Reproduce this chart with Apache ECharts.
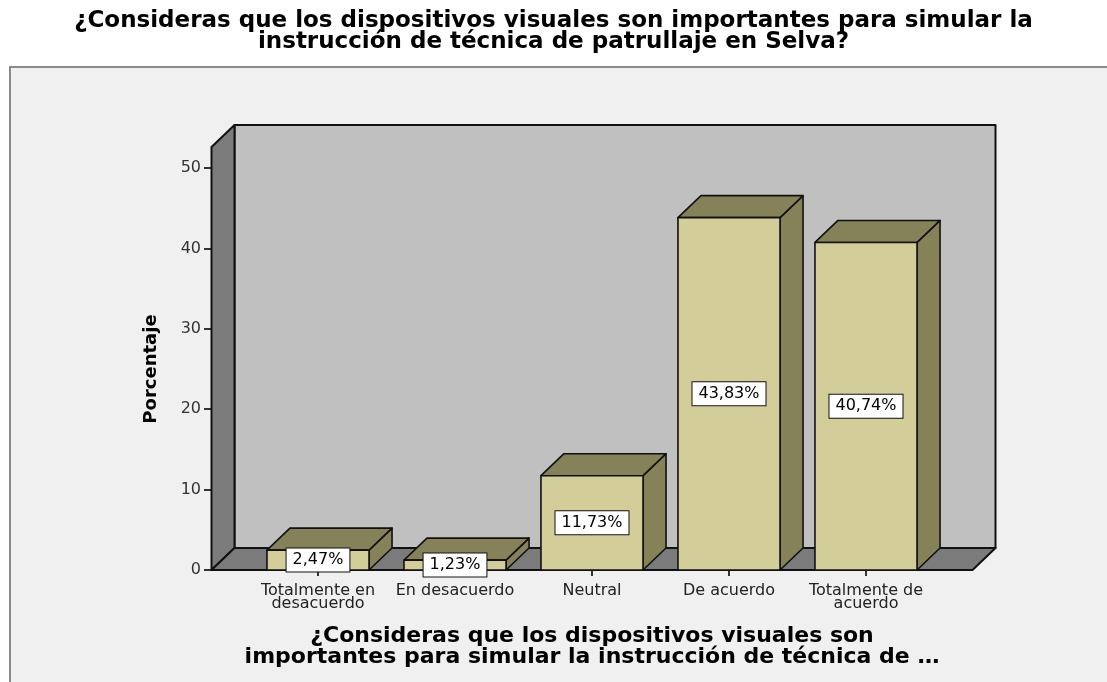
<!DOCTYPE html>
<html>
<head>
<meta charset="utf-8">
<script src="https://cdn.jsdelivr.net/npm/echarts@6/dist/echarts.min.js"></script>
<style>
    html, body {margin:0;padding:0;background:#fff;}
    #chart {width:1107px;height:682px;}
</style>
</head>
<body>
<div id="chart"></div>
<script>
    // datos
    var categorias = ['Totalmente en\ndesacuerdo', 'En desacuerdo', 'Neutral', 'De acuerdo', 'Totalmente de\nacuerdo'];
    var porcentajes = [2.47, 1.23, 11.73, 43.83, 40.74];
    var ticksY = [0, 10, 20, 30, 40, 50];

    var TOPE_MURO = 52.6;   // alto del muro de fondo, en unidades del eje
    var DX = 23, DY = 22;   // profundidad 3D
    var PAD = 38;           // el piso sobresale del eje de categorias
    var fuente = 'DejaVu Sans';

    var chart = echarts.init(document.getElementById('chart'));

    function muros(params, api) {
        var cs = params.coordSys;
        var xl = cs.x - PAD, xr = cs.x + cs.width + PAD;
        var y0 = api.coord([0, 0])[1];
        var yt = api.coord([0, TOPE_MURO])[1];
        var borde = {stroke: '#111', lineWidth: 2, lineJoin: 'round'};
        return {
            type: 'group',
            children: [
                {type: 'rect', shape: {x: xl + DX, y: yt - DY, width: xr - xl, height: y0 - yt},
                    style: Object.assign({fill: '#c0c0c0'}, borde)},
                {type: 'polygon', shape: {points: [[xl, yt], [xl + DX, yt - DY], [xl + DX, y0 - DY], [xl, y0]]},
                    style: Object.assign({fill: '#7b7b7b'}, borde)},
                {type: 'polygon', shape: {points: [[xl, y0], [xl + DX, y0 - DY], [xr + DX, y0 - DY], [xr, y0]]},
                    style: Object.assign({fill: '#7b7b7b'}, borde)}
            ]
        };
    }

    function barra3d(params, api) {
        var i = api.value(0), v = api.value(1);
        var top = api.coord([i, v]);
        var base = api.coord([i, 0]);
        var w = api.size([1, 0])[0] * 0.745;
        var x0 = top[0] - w / 2, x1 = x0 + w;
        var yt = top[1], yb = base[1];
        var borde = {stroke: '#111', lineWidth: 1.6, lineJoin: 'round'};
        return {
            type: 'group',
            children: [
                {type: 'polygon', shape: {points: [[x1, yt], [x1 + DX, yt - DY], [x1 + DX, yb - DY], [x1, yb]]},
                    style: Object.assign({fill: '#858159'}, borde)},
                {type: 'polygon', shape: {points: [[x0, yt], [x0 + DX, yt - DY], [x1 + DX, yt - DY], [x1, yt]]},
                    style: Object.assign({fill: '#858159'}, borde)},
                {type: 'rect', shape: {x: x0, y: yt, width: w, height: yb - yt},
                    style: Object.assign({fill: '#d3ce99'}, borde)},
                {type: 'text', x: top[0], y: (yt + yb) / 2, z2: 10,
                    style: {
                        text: v.toFixed(2).replace('.', ',') + '%',
                        fontFamily: fuente, fontSize: 16, fill: '#000',
                        align: 'center', verticalAlign: 'middle',
                        backgroundColor: '#fff', borderColor: '#111', borderWidth: 1,
                        padding: [4, 6, 3, 6]
                    }}
            ]
        };
    }

    var option = {
        backgroundColor: '#fff',
        animation: false,
        title: {
            text: '¿Consideras que los dispositivos visuales son importantes para simular la\ninstrucción de técnica de patrullaje en Selva?',
            left: 'center',
            top: 6,
            textStyle: {fontFamily: fuente, fontSize: 23, fontWeight: 'bold', color: '#000', lineHeight: 21}
        },
        graphic: [{
            type: 'rect', z: -10, silent: true,
            shape: {x: 10, y: 67, width: 1110, height: 640},
            style: {fill: '#f0f0f0', stroke: '#8a8a8a', lineWidth: 2}
        }],
        grid: {left: 249.5, right: 172.5, top: 168, bottom: 112},
        xAxis: {
            type: 'category',
            data: categorias,
            axisLine: {show: false},
            axisTick: {show: true, alignWithLabel: true, length: 6, lineStyle: {color: '#333', width: 2}},
            axisLabel: {interval: 0, fontFamily: fuente, fontSize: 16, color: '#222', lineHeight: 13, margin: 14},
            name: '¿Consideras que los dispositivos visuales son\nimportantes para simular la instrucción de técnica de …',
            nameLocation: 'middle',
            nameGap: 56,
            nameTextStyle: {fontFamily: fuente, fontSize: 22, fontWeight: 'bold', color: '#000', lineHeight: 21}
        },
        yAxis: {
            type: 'value',
            min: 0, max: 50, interval: 10,
            offset: 37.5,
            splitLine: {show: false},
            axisLine: {show: true, lineStyle: {color: '#111', width: 2}},
            axisTick: {show: true, length: 8, customValues: ticksY, lineStyle: {color: '#333', width: 2}},
            axisLabel: {fontFamily: fuente, fontSize: 16, color: '#333', margin: 11, customValues: ticksY},
            name: 'Porcentaje',
            nameLocation: 'middle',
            nameGap: 52,
            nameRotate: 90,
            nameTextStyle: {fontFamily: fuente, fontSize: 18, fontWeight: 'bold', color: '#000'}
        },
        series: [
            {
                type: 'custom', name: 'fondo', silent: true, z: 1,
                renderItem: muros,
                data: [[0, 0]]
            },
            {
                type: 'custom', name: 'Porcentaje', z: 3,
                renderItem: barra3d,
                encode: {x: 0, y: 1},
                data: porcentajes.map(function (p, i) { return [i, p]; })
            }
        ]
    };
    chart.setOption(option);
    window.onresize = function () { chart.resize(); };
</script>
</body>
</html>
